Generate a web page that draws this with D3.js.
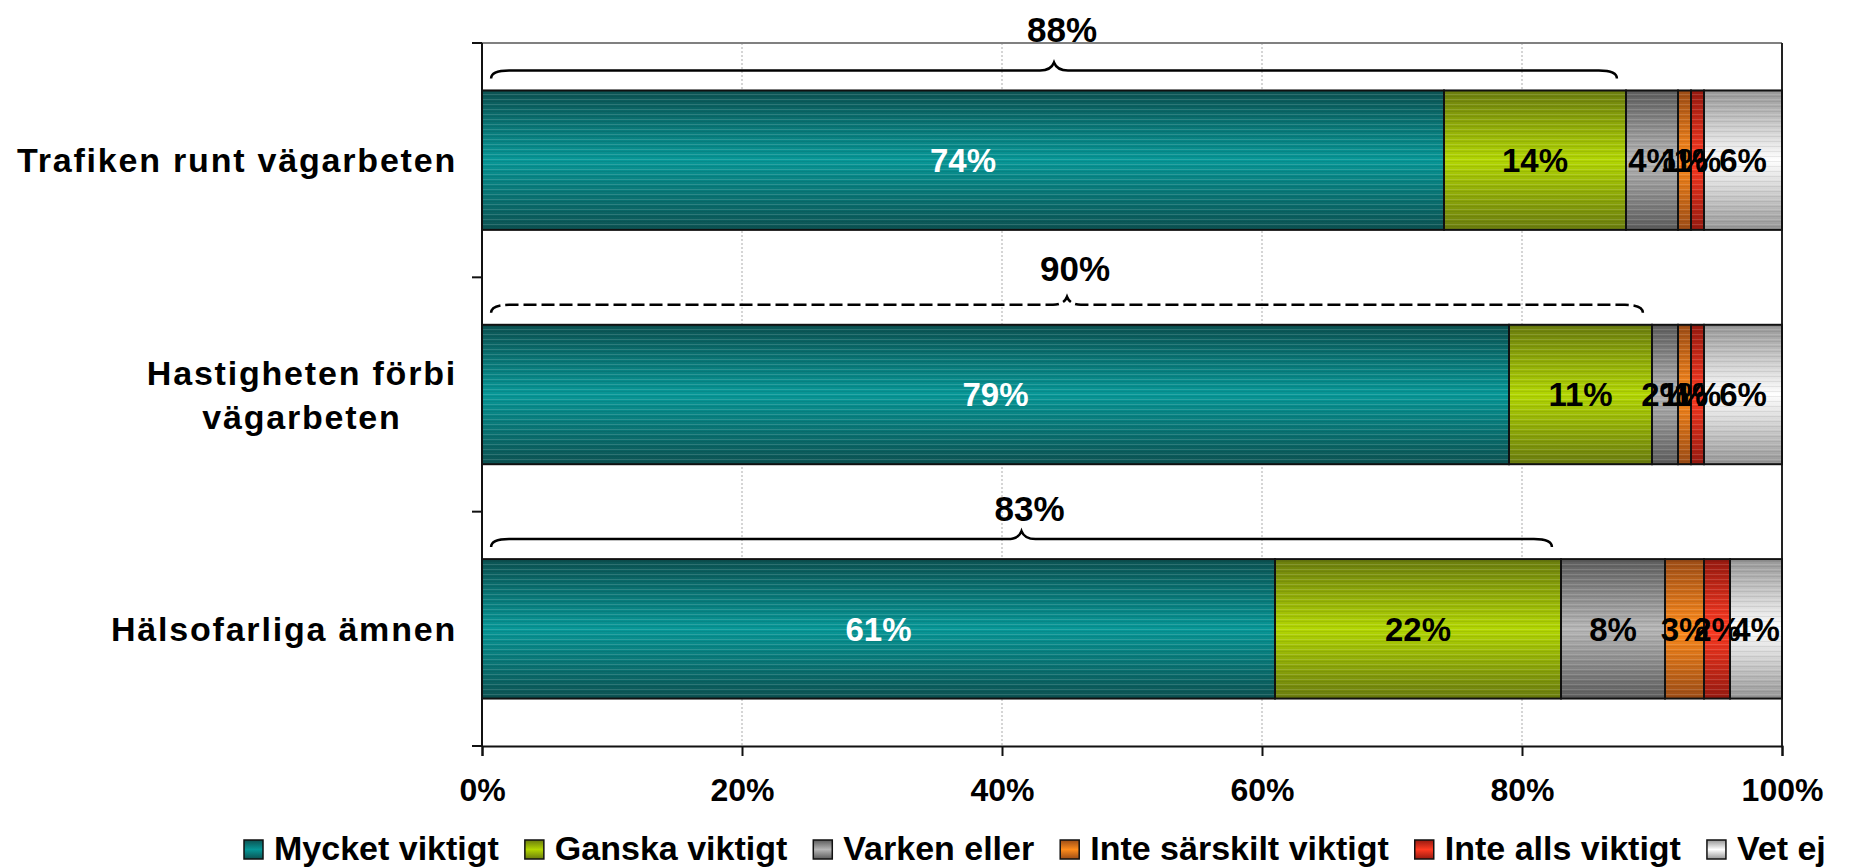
<!DOCTYPE html>
<html>
<head>
<meta charset="utf-8">
<script src="https://cdn.jsdelivr.net/npm/d3@7"></script>
<style>
  body { margin: 0; background: #fff; }
  svg text { font-family: "Liberation Sans", Arial, sans-serif; font-weight: bold; }
</style>
</head>
<body>
<svg id="chart" width="1863" height="867"></svg>
<script>
// data
const categories = ["Trafiken runt vägarbeten", "Hastigheten förbi\nvägarbeten", "Hälsofarliga ämnen"];
const seriesNames = ["Mycket viktigt", "Ganska viktigt", "Varken eller", "Inte särskilt viktigt", "Inte alls viktigt", "Vet ej"];
const mycketViktigt = [74, 79, 61];
const ganskaViktigt = [14, 11, 22];
const varkenEller = [4, 2, 8];
const inteSarskilt = [1, 1, 3];
const inteAlls = [1, 1, 2];
const vetEj = [6, 6, 4];
const bracketTotals = [88, 90, 83];
const xTicks = [0, 20, 40, 60, 80, 100];

const seriesValues = [mycketViktigt, ganskaViktigt, varkenEller, inteSarskilt, inteAlls, vetEj];
// [edge colour, centre colour] for the shaded bars
const shades = [
  ["#0c5252", "#079797"],
  ["#6a7c0e", "#b2d602"],
  ["#5c5c5c", "#b6b6b6"],
  ["#9c4c16", "#ff8c1c"],
  ["#961a10", "#ff3b22"],
  ["#969696", "#ffffff"],
];
const labelColors = ["#fff", "#000", "#000", "#000", "#000", "#000"];

const margin = { top: 43, right: 81, bottom: 121, left: 482 };
const width = 1863 - margin.left - margin.right;
const height = 867 - margin.top - margin.bottom;

const svg = d3.select("#chart");
const defs = svg.append("defs");

seriesNames.forEach(function (name, i) {
  const g = defs.append("linearGradient")
    .attr("id", "grad" + i)
    .attr("x1", 0).attr("y1", 0).attr("x2", 0).attr("y2", 1);
  g.append("stop").attr("offset", "0%").attr("stop-color", shades[i][0]);
  g.append("stop").attr("offset", "50%").attr("stop-color", shades[i][1]);
  g.append("stop").attr("offset", "100%").attr("stop-color", shades[i][0]);
});

// thin horizontal streaks on top of the gradient
const stripes = defs.append("pattern")
  .attr("id", "stripes")
  .attr("patternUnits", "userSpaceOnUse")
  .attr("width", 8).attr("height", 5);
stripes.append("rect").attr("y", 1).attr("width", 8).attr("height", 1).attr("fill", "#fff").attr("opacity", 0.14);
stripes.append("rect").attr("y", 3).attr("width", 8).attr("height", 1).attr("fill", "#000").attr("opacity", 0.07);

const chart = svg.append("g").attr("transform", `translate(${margin.left},${margin.top})`);

const x = d3.scaleLinear().domain([0, 100]).range([0, width]);
const y = d3.scaleBand().domain(categories).range([0, height]).paddingInner(0.405).paddingOuter(0.2025);

// gridlines
chart.selectAll(".grid")
  .data(xTicks.slice(1, -1))
  .enter()
  .append("line")
  .attr("x1", (d) => x(d)).attr("x2", (d) => x(d))
  .attr("y1", 0).attr("y2", height)
  .attr("stroke", "#c8c8c8")
  .attr("stroke-width", 1.5)
  .attr("stroke-dasharray", "2,2");

// plot frame: top grey, right dark
chart.append("line").attr("x1", 0).attr("x2", width).attr("y1", 0).attr("y2", 0)
  .attr("stroke", "#808080").attr("stroke-width", 2);
chart.append("line").attr("x1", width).attr("x2", width).attr("y1", 0).attr("y2", height)
  .attr("stroke", "#222").attr("stroke-width", 2);

// stacked segments
const rows = categories.map(function (c, ci) {
  let acc = 0;
  return seriesValues.map(function (vals, si) {
    const seg = { cat: c, series: si, start: acc, value: vals[ci] };
    acc += vals[ci];
    return seg;
  });
});
const segments = rows.flat();

chart.selectAll(".seg")
  .data(segments)
  .enter()
  .append("rect")
  .attr("class", "seg")
  .attr("x", (d) => x(d.start))
  .attr("y", (d) => y(d.cat))
  .attr("width", (d) => x(d.start + d.value) - x(d.start))
  .attr("height", y.bandwidth())
  .attr("fill", (d) => `url(#grad${d.series})`);

chart.selectAll(".segtex")
  .data(segments)
  .enter()
  .append("rect")
  .attr("x", (d) => x(d.start))
  .attr("y", (d) => y(d.cat))
  .attr("width", (d) => x(d.start + d.value) - x(d.start))
  .attr("height", y.bandwidth())
  .attr("fill", "url(#stripes)")
  .attr("stroke", "#111")
  .attr("stroke-width", 2);

chart.selectAll(".val")
  .data(segments)
  .enter()
  .append("text")
  .attr("x", (d) => x(d.start + d.value / 2))
  .attr("y", (d) => y(d.cat) + y.bandwidth() / 2)
  .attr("dy", "0.36em")
  .attr("text-anchor", "middle")
  .attr("font-size", 33)
  .attr("fill", (d) => labelColors[d.series])
  .text((d) => d.value + "%");

// curly brackets above each bar
function bracePath(x0, x1, yy) {
  const xc = (x0 + x1) / 2;
  const h = 8;
  return `M${x0},${yy + h} Q${x0},${yy} ${x0 + 18},${yy} L${xc - 14},${yy} Q${xc - 3},${yy} ${xc},${yy - h} ` +
    `Q${xc + 3},${yy} ${xc + 14},${yy} L${x1 - 18},${yy} Q${x1},${yy} ${x1},${yy + h}`;
}

const labelLift = [28, 24, 18];
categories.forEach(function (c, i) {
  const yy = y(c) - 20;
  const x0 = x(0.7);
  const x1 = x(bracketTotals[i] - 0.7);
  chart.append("path")
    .attr("d", bracePath(x0, x1, yy))
    .attr("fill", "none")
    .attr("stroke", "#000")
    .attr("stroke-width", 2.5)
    .attr("stroke-dasharray", i === 1 ? "13,5" : null);
  chart.append("text")
    .attr("x", (x0 + x1) / 2 + 8)
    .attr("y", yy - labelLift[i])
    .attr("text-anchor", "middle")
    .attr("font-size", 35)
    .text(bracketTotals[i] + "%");
});

// axes
const xAxis = chart.append("g")
  .attr("transform", `translate(0,${height})`)
  .call(d3.axisBottom(x).tickValues(xTicks).tickSize(10).tickPadding(22).tickFormat((d) => d + "%"));
xAxis.select(".domain").attr("stroke", "#111").attr("stroke-width", 2);
xAxis.selectAll(".tick line").attr("stroke", "#111").attr("stroke-width", 2);
xAxis.selectAll(".tick text").attr("font-size", 32).attr("fill", "#000")
  .style("font-family", '"Liberation Sans", Arial, sans-serif').style("font-weight", "bold");

const bandEdges = d3.range(categories.length + 1).map((i) => i * height / categories.length);
chart.append("line").attr("x1", 0).attr("x2", 0).attr("y1", 0).attr("y2", height)
  .attr("stroke", "#111").attr("stroke-width", 2);
chart.selectAll(".ytick")
  .data(bandEdges)
  .enter()
  .append("line")
  .attr("x1", -10).attr("x2", 0)
  .attr("y1", (d) => d).attr("y2", (d) => d)
  .attr("stroke", "#111").attr("stroke-width", 2);

// category labels, lines centred, block right aligned
categories.forEach(function (c) {
  const lines = c.split("\n");
  const t = chart.append("text")
    .attr("font-size", 34)
    .attr("letter-spacing", "1.8px")
    .attr("text-anchor", "middle");
  const lh = 44;
  const cy = y(c) + y.bandwidth() / 2;
  lines.forEach(function (ln, li) {
    t.append("tspan")
      .attr("x", 0)
      .attr("y", cy + (li - (lines.length - 1) / 2) * lh)
      .attr("dy", "0.36em")
      .text(ln);
  });
  const w = t.node().getBBox().width;
  t.selectAll("tspan").attr("x", -25 - w / 2);
});

// legend
const legend = svg.append("g").attr("transform", "translate(244,860)");
let lx = 0;
seriesNames.forEach(function (name, i) {
  const item = legend.append("g").attr("transform", `translate(${lx},0)`);
  item.append("rect").attr("x", 0).attr("y", -20).attr("width", 19).attr("height", 19)
    .attr("fill", `url(#grad${i})`).attr("stroke", "#111").attr("stroke-width", 1.5);
  const t = item.append("text").attr("x", 30).attr("y", 0).attr("font-size", 34).text(name);
  lx += 30 + t.node().getComputedTextLength() + 26;
});
</script>
</body>
</html>
